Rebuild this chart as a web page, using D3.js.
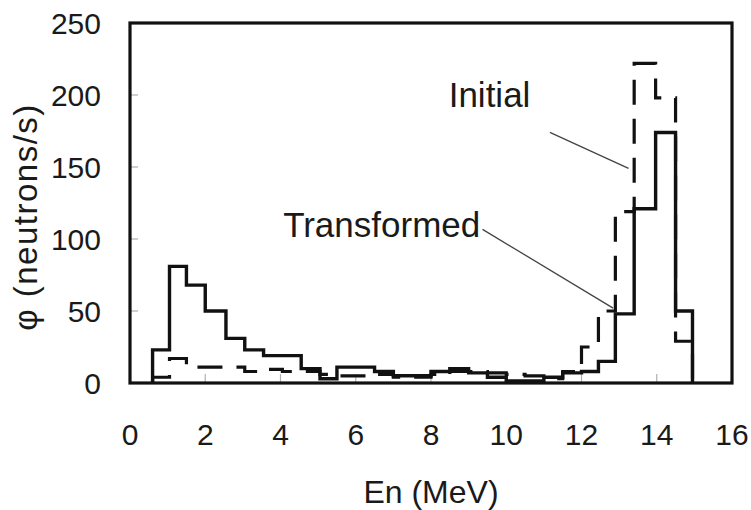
<!DOCTYPE html>
<html>
<head>
<meta charset="utf-8">
<script src="https://cdn.jsdelivr.net/npm/d3@7"></script>
<style>
  html, body { margin: 0; padding: 0; background: #fff; }
  svg text { font-family: "Liberation Sans", Arial, Helvetica, sans-serif; fill: #1a1a1a; }
</style>
</head>
<body>
<svg id="chart" width="751" height="510"></svg>
<script>
// Energy bin edges (MeV)
const binEdges = [0.6, 1.05, 1.5, 2.0, 2.55, 3.05, 3.55, 4.05, 4.55, 5.05, 5.5, 6.0, 6.5, 7.0, 7.5,
                  8.0, 8.5, 9.0, 9.5, 10.0, 10.5, 11.0, 11.5, 12.0, 12.45, 12.9, 13.4, 13.97, 14.5, 14.95];
// Transformed spectrum (solid), neutrons/s per bin
const transformed = [23, 81, 68, 50, 31, 23, 19, 19, 10, 3, 11, 11, 8, 5, 5,
                     8, 10, 7, 4, 1.5, 1.5, 4, 7, 8, 15, 48, 121, 174, 50];
// Initial spectrum (dashed)
const initial = [4, 17, 11, 11, 11, 8, 9.5, 8, 8, 6, 5, 5, 6, 4, 4,
                 6, 8, 8, 7, 6, 5, 3, 8, 25, 50, 119, 222, 198, 29];
const xTicks = [0, 2, 4, 6, 8, 10, 12, 14, 16];
const yTicks = [0, 50, 100, 150, 200, 250];
const xTitle = "En (MeV)";
const yTitle = "\u03c6 (neutrons/s)";
// Annotation labels with leader lines, in data units
const annotations = [
  { text: "Initial", tx: 8.47, ty: 192, x1: 11.16, y1: 174, x2: 13.25, y2: 149 },
  { text: "Transformed", tx: 4.07, ty: 101.6, x1: 9.37, y1: 106.7, x2: 12.84, y2: 52 }
];

const svg = d3.select("#chart");
const m = { left: 130, right: 19, top: 23, bottom: 127 };
const W = 751, H = 510;
const x = d3.scaleLinear().domain([0, 16]).range([m.left, W - m.right]);
const y = d3.scaleLinear().domain([0, 250]).range([H - m.bottom, m.top]);

// inner tick marks
const g = svg.append("g");
g.selectAll(".yt").data(yTicks.slice(1, -1)).enter().append("line")
  .attr("x1", x(0)).attr("x2", x(0) + 8)
  .attr("y1", d => y(d)).attr("y2", d => y(d))
  .attr("stroke", "#b0b0b0").attr("stroke-width", 1.2);
g.selectAll(".xt").data(xTicks.slice(1, -1)).enter().append("line")
  .attr("x1", d => x(d)).attr("x2", d => x(d))
  .attr("y1", y(0)).attr("y2", y(0) - 9)
  .attr("stroke", "#b0b0b0").attr("stroke-width", 1.2);

// step paths
function stepPath(vals) {
  const pts = [[binEdges[0], 0]];
  vals.forEach((v, i) => { pts.push([binEdges[i], v]); pts.push([binEdges[i + 1], v]); });
  pts.push([binEdges[binEdges.length - 1], 0]);
  return d3.line().x(d => x(d[0])).y(d => y(d[1]))(pts);
}

svg.append("path").attr("d", stepPath(initial))
  .attr("fill", "none").attr("stroke", "#111").attr("stroke-width", 3.2)
  .attr("stroke-dasharray", "25,14").attr("stroke-linejoin", "miter");
svg.append("path").attr("d", stepPath(transformed))
  .attr("fill", "none").attr("stroke", "#111").attr("stroke-width", 3.4)
  .attr("stroke-linejoin", "miter");

// frame
svg.append("rect").attr("x", x(0)).attr("y", y(250))
  .attr("width", x(16) - x(0)).attr("height", y(0) - y(250))
  .attr("fill", "none").attr("stroke", "#111").attr("stroke-width", 3.2);

// tick labels
svg.selectAll(".yl").data(yTicks).enter().append("text")
  .attr("x", 101).attr("y", d => y(d)).attr("dy", "0.36em")
  .attr("text-anchor", "end").attr("font-size", 30).text(d => d);
svg.selectAll(".xl").data(xTicks).enter().append("text")
  .attr("x", d => x(d)).attr("y", 445)
  .attr("text-anchor", "middle").attr("font-size", 30).text(d => d);

// axis titles
svg.append("text").attr("x", 431).attr("y", 503)
  .attr("text-anchor", "middle").attr("font-size", 32).text(xTitle);
svg.append("text").attr("transform", "translate(37,217) rotate(-90)")
  .attr("text-anchor", "middle").attr("font-size", 33)
  .attr("letter-spacing", 1.5).text(yTitle);

// annotations
annotations.forEach(a => {
  svg.append("line").attr("x1", x(a.x1)).attr("y1", y(a.y1))
    .attr("x2", x(a.x2)).attr("y2", y(a.y2))
    .attr("stroke", "#444").attr("stroke-width", 1.3);
  svg.append("text").attr("x", x(a.tx)).attr("y", y(a.ty))
    .attr("font-size", 35).text(a.text);
});
</script>
</body>
</html>
